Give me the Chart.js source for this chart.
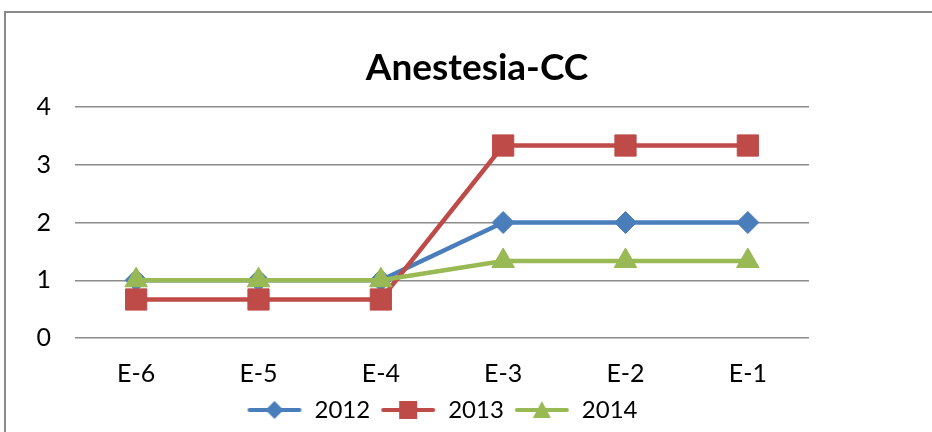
<!DOCTYPE html>
<html>
<head>
<meta charset="utf-8">
<script src="https://cdn.jsdelivr.net/npm/chart.js@4"></script>
<style>
  html, body { margin: 0; padding: 0; background: #fff; overflow: hidden; }
  body { width: 932px; height: 432px; position: relative; }
  .frame { position: absolute; left: 4px; top: 11px; width: 1000px; height: 1000px; border: 2px solid #8a8a8a; }
  .chart-box { position: absolute; left: 0; top: 0; width: 932px; height: 432px; }
</style>
</head>
<body>
<div class="frame"></div>
<div class="chart-box"><canvas id="chart"></canvas></div>
<script>
const categories = ['E-6', 'E-5', 'E-4', 'E-3', 'E-2', 'E-1'];
const values2012 = [1, 1, 1, 2, 2, 2];
const values2013 = [0.667, 0.667, 0.667, 3.333, 3.333, 3.333];
const values2014 = [1, 1, 1, 1.333, 1.333, 1.333];
const yTicks = [0, 1, 2, 3, 4];

const FONT = "Lato, 'Open Sans', sans-serif";

// legend swatch: a short line with the marker in the middle (Excel style)
function legendSwatch(color, style) {
  const c = document.createElement('canvas');
  c.width = 56; c.height = 24;
  const g = c.getContext('2d');
  g.strokeStyle = color; g.fillStyle = color;
  g.lineWidth = 4; g.lineCap = 'round';
  g.beginPath(); g.moveTo(3, 12); g.lineTo(53, 12); g.stroke();
  g.beginPath();
  if (style === 'rectRot') {
    g.moveTo(28, 3); g.lineTo(37, 12); g.lineTo(28, 21); g.lineTo(19, 12);
  } else if (style === 'rect') {
    g.rect(19, 3, 18, 18);
  } else {
    g.moveTo(28, 3); g.lineTo(37, 20); g.lineTo(19, 20);
  }
  g.closePath(); g.fill();
  return c;
}

const series = [
  { label: '2012', data: values2012, color: '#4a7ebb', style: 'rectRot', radius: 11, order: 3 },
  { label: '2013', data: values2013, color: '#be4b48', style: 'rect', radius: 15, order: 2 },
  { label: '2014', data: values2014, color: '#98b954', style: 'triangle', radius: 13, order: 1 }
];

// center the legend under the plot area instead of the whole canvas
const legendUnderPlot = {
  id: 'legendUnderPlot',
  afterUpdate(chart) {
    const lg = chart.legend;
    if (!lg) return;
    lg.left = chart.chartArea.left;
    lg.right = chart.chartArea.right;
    lg.width = lg.right - lg.left;
    lg.adjustHitBoxes();
  }
};

const ctx = document.getElementById('chart').getContext('2d');
new Chart(ctx, {
  type: 'line',
  data: {
    labels: categories,
    datasets: series.map(s => ({
      label: s.label,
      data: s.data,
      borderColor: s.color,
      backgroundColor: s.color,
      borderWidth: 4.5,
      pointStyle: s.style,
      pointRadius: s.radius,
      pointBorderWidth: 1,
      order: s.order,
      tension: 0
    }))
  },
  plugins: [legendUnderPlot],
  options: {
    responsive: true,
    maintainAspectRatio: false,
    animation: false,
    layout: { padding: { left: 22, right: 0, top: 0, bottom: 0 } },
    plugins: {
      title: {
        display: true,
        text: 'Anestesia-CC',
        color: '#000',
        font: { family: FONT, size: 37, weight: 'bold' },
        padding: { top: 45.8, bottom: 16.8 }
      },
      legend: {
        position: 'bottom',
        labels: {
          color: '#000',
          font: { family: FONT, size: 24 },
          usePointStyle: true,
          pointStyleWidth: 56,
          padding: 10,
          generateLabels: () => series.map((s, i) => ({
            text: s.label,
            pointStyle: legendSwatch(s.color, s.style),
            fillStyle: s.color,
            strokeStyle: s.color,
            lineWidth: 0,
            datasetIndex: i,
            fontColor: '#000'
          }))
        }
      },
      tooltip: { enabled: false }
    },
    scales: {
      x: {
        offset: true,
        grid: { display: false, drawTicks: false },
        border: { display: false },
        ticks: { color: '#000', font: { family: FONT, size: 25 }, padding: 21, maxRotation: 0 },
        afterFit: scale => { scale.height = 50; }
      },
      y: {
        min: 0,
        max: 4,
        afterBuildTicks: scale => { scale.ticks = yTicks.map(v => ({ value: v })); },
        grid: { color: '#8c8c8c', lineWidth: 1.5, drawTicks: false },
        border: { display: false },
        ticks: { color: '#000', font: { family: FONT, size: 25 }, padding: 24 },
        afterFit: scale => { scale.width = 53; }
      },
      // empty right-hand axis, only reserves the blank space right of the plot
      yRight: {
        position: 'right',
        grid: { display: false, drawTicks: false },
        border: { display: false },
        ticks: { display: false },
        afterFit: scale => { scale.width = 123; }
      }
    }
  }
});
</script>
</body>
</html>
